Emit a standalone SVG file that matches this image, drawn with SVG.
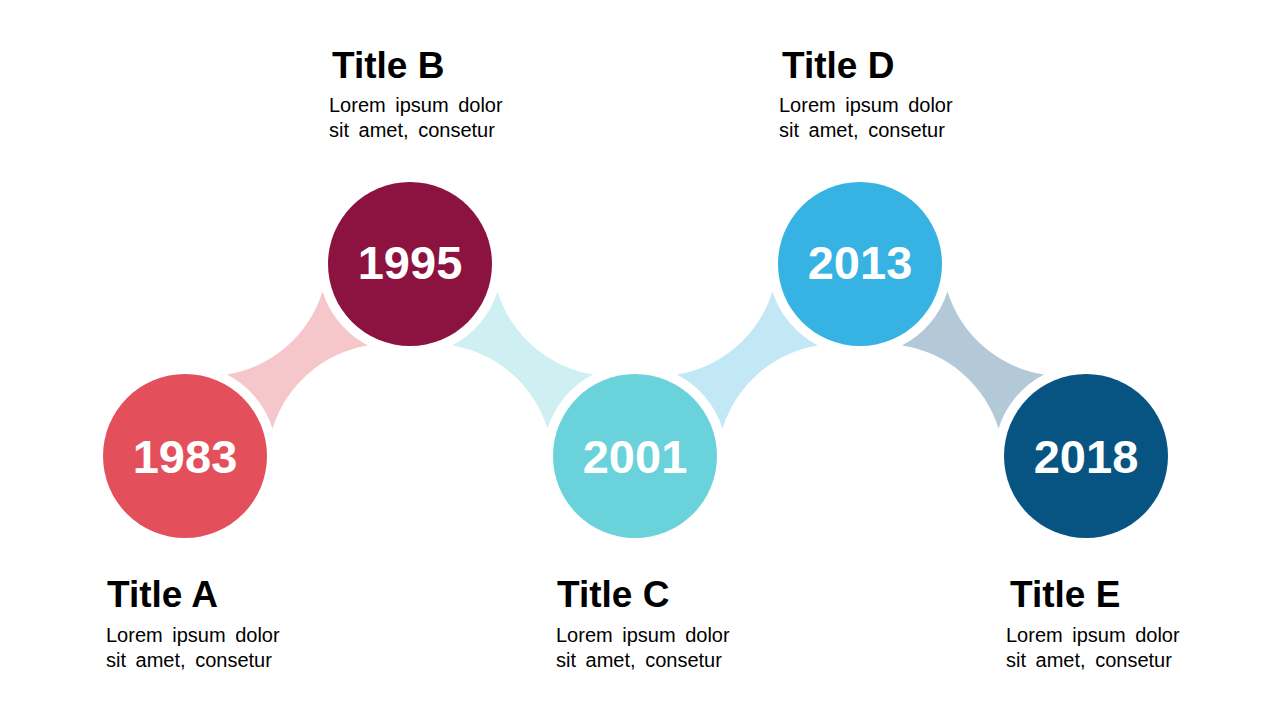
<svg xmlns="http://www.w3.org/2000/svg" width="1280" height="720" viewBox="0 0 1280 720">
<style>
.title{font-family:"Liberation Sans",Arial,sans-serif;font-weight:bold;font-size:37px;fill:#000}
.body{font-family:"Liberation Sans",Arial,sans-serif;font-size:20px;fill:#000;word-spacing:4px}
.year{font-family:"Liberation Sans",Arial,sans-serif;font-weight:bold;font-size:47px;fill:#fff;text-anchor:middle}
</style>
<rect width="1280" height="720" fill="#fff"/>
<g id="connectors">
<path fill="#F5C6CA" d="M227 374.5 A120 120 0 0 0 322.5 291.5 A91.7 91.7 0 0 0 368 345.5 A120 120 0 0 0 272.5 428.5 A91.7 91.7 0 0 0 227 374.5 Z"/>
<path fill="#CEF0F3" d="M497.5 291.5 A120 120 0 0 0 593 374.5 A91.7 91.7 0 0 0 547.5 428.5 A120 120 0 0 0 452 345.5 A91.7 91.7 0 0 0 497.5 291.5 Z"/>
<path fill="#C2E7F5" d="M677 374.5 A120 120 0 0 0 772.5 291.5 A91.7 91.7 0 0 0 818 345.5 A120 120 0 0 0 722.5 428.5 A91.7 91.7 0 0 0 677 374.5 Z"/>
<path fill="#B4C9D7" d="M947.5 291.5 A120 120 0 0 0 1044 374.5 A91.7 91.7 0 0 0 998.5 428.5 A120 120 0 0 0 902 345.5 A91.7 91.7 0 0 0 947.5 291.5 Z"/>
</g>
<g id="node-1983">
<circle cx="185" cy="456" r="82" fill="#E3505B"/>
<text class="year" x="185" y="473">1983</text>
<text class="title" x="107" y="607">Title A</text>
<text class="body" x="106" y="642">Lorem ipsum dolor</text>
<text class="body" x="106" y="667">sit amet, consetur</text>
</g>
<g id="node-1995">
<circle cx="410" cy="264" r="82" fill="#8C1340"/>
<text class="year" x="410" y="279">1995</text>
<text class="title" x="332" y="78">Title B</text>
<text class="body" x="329" y="112">Lorem ipsum dolor</text>
<text class="body" x="329" y="137">sit amet, consetur</text>
</g>
<g id="node-2001">
<circle cx="635" cy="456" r="82" fill="#69D2DB"/>
<text class="year" x="635" y="473">2001</text>
<text class="title" x="557" y="607">Title C</text>
<text class="body" x="556" y="642">Lorem ipsum dolor</text>
<text class="body" x="556" y="667">sit amet, consetur</text>
</g>
<g id="node-2013">
<circle cx="860" cy="264" r="82" fill="#36B2E3"/>
<text class="year" x="860" y="279">2013</text>
<text class="title" x="782" y="78">Title D</text>
<text class="body" x="779" y="112">Lorem ipsum dolor</text>
<text class="body" x="779" y="137">sit amet, consetur</text>
</g>
<g id="node-2018">
<circle cx="1086" cy="456" r="82" fill="#075381"/>
<text class="year" x="1086" y="473">2018</text>
<text class="title" x="1010" y="607">Title E</text>
<text class="body" x="1006" y="642">Lorem ipsum dolor</text>
<text class="body" x="1006" y="667">sit amet, consetur</text>
</g>
</svg>
